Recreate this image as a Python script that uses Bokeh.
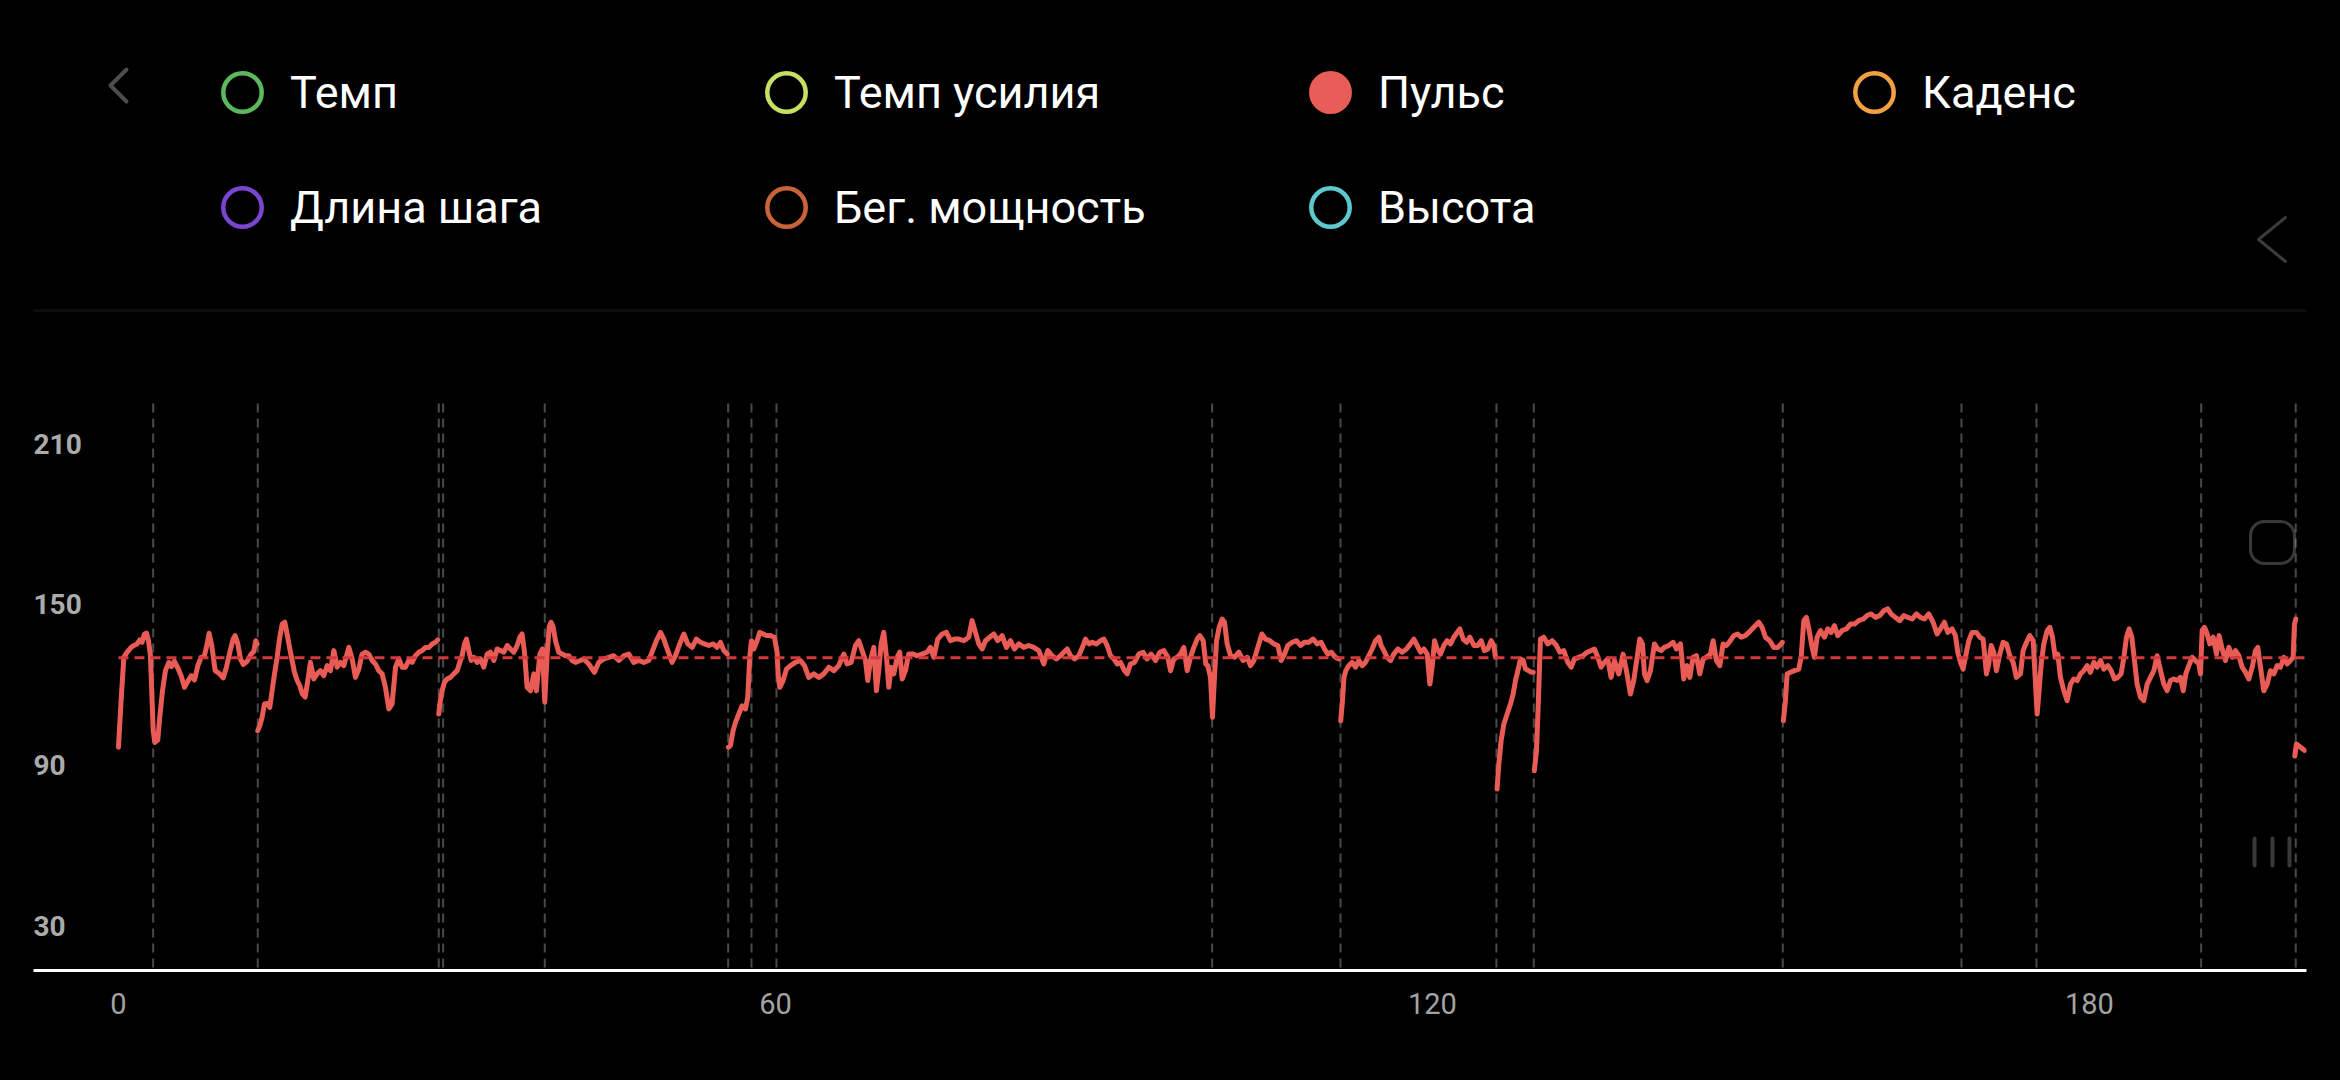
from bokeh.plotting import figure
from bokeh.models import (Range1d, FixedTicker, Legend, LegendItem, PolyAnnotation,
                          BoxAnnotation, GlobalInlineStyleSheet)
from bokeh.core.properties import value
from bokeh.embed import file_html
from bokeh.resources import INLINE

# ---------------- data ----------------
series_names = ["Темп", "Темп усилия", "Пульс", "Каденс",
                "Длина шага", "Бег. мощность", "Высота"]
series_colors = ["#5cb85c", "#c6e063", "#e85d57", "#f3a043",
                 "#7a46d0", "#c9643a", "#5ec8cf"]
series_active = [False, False, True, False, False, False, False]

x_ticks = [0, 60, 120, 180]
y_ticks = [30, 90, 150, 210]
y_tick_labels = ["30", "90", "150", "210"]

lap_marks_min = [3.17, 12.72, 29.25, 29.65, 38.93, 55.68, 57.81, 60.09, 99.88,
                 111.60, 125.84, 129.25, 151.99, 168.31, 175.16, 190.20, 198.84]
avg_hr = 130

seg_a_min = [0.0, 0.24, 0.49, 0.79, 1.16, 1.40, 1.70, 1.95, 2.16, 2.37, 2.56, 2.74, 2.92, 3.07, 3.17, 3.32, 3.59, 3.77, 4.02, 4.29, 4.60, 4.84, 5.11, 5.42, 5.72, 6.03, 6.33, 6.64, 6.94, 7.25, 7.55, 7.85, 8.10, 8.28, 8.52, 8.83, 9.19, 9.56, 9.86, 10.17, 10.47, 10.65, 10.90, 11.14, 11.39, 11.75, 12.12, 12.36, 12.54, 12.66]
seg_a_hr = [96.6, 114.0, 130.2, 132.1, 133.9, 134.6, 135.2, 136.7, 135.8, 138.9, 139.2, 136.4, 130.8, 114.0, 102.8, 98.4, 99.3, 107.8, 117.7, 125.2, 128.3, 126.7, 128.7, 126.2, 123.3, 119.0, 121.2, 123.3, 121.7, 127.1, 130.2, 130.8, 135.2, 139.2, 134.6, 125.2, 124.2, 122.5, 126.5, 132.1, 137.0, 138.3, 135.2, 129.6, 127.5, 128.7, 131.4, 132.4, 136.4, 135.2]

seg_b_min = [12.72, 12.91, 13.12, 13.33, 13.58, 13.82, 14.03, 14.25, 14.49, 14.73, 14.95, 15.19, 15.40, 15.65, 15.86, 16.07, 16.32, 16.56, 16.80, 17.05, 17.29, 17.53, 17.84, 18.14, 18.45, 18.75, 19.06, 19.36, 19.67, 19.97, 20.27, 20.58, 21.04, 21.34, 21.64, 21.95, 22.25, 22.56, 22.86, 23.17, 23.47, 23.77, 24.08, 24.38, 24.69, 24.99, 25.30, 25.60, 25.91, 26.21, 26.51, 26.82, 27.12, 27.43, 27.73, 28.04, 28.34, 28.65, 28.95, 29.16]
seg_b_hr = [102.8, 104.7, 107.8, 112.8, 113.0, 111.5, 117.7, 124.0, 130.2, 137.7, 142.6, 143.3, 138.9, 133.3, 129.0, 124.6, 121.5, 119.6, 116.5, 115.3, 121.5, 128.3, 122.1, 124.0, 125.2, 123.3, 127.1, 125.2, 132.7, 126.5, 128.3, 127.1, 133.9, 129.6, 122.7, 125.8, 131.4, 132.1, 131.4, 129.0, 127.7, 125.2, 124.0, 119.0, 110.9, 112.8, 126.5, 129.6, 126.5, 126.5, 129.0, 128.3, 130.8, 132.1, 132.7, 133.9, 133.9, 135.2, 135.8, 136.7]

seg_c_min = [29.25, 29.35, 29.56, 29.77, 30.01, 30.32, 30.62, 30.93, 31.17, 31.38, 31.60, 31.78, 31.99, 32.21, 32.45, 32.76, 33.06, 33.36, 33.67, 33.97, 34.28, 34.58, 34.89, 35.19, 35.50, 35.80, 36.10, 36.41, 36.65, 36.86, 37.08, 37.32, 37.63, 37.93, 38.17, 38.48, 38.72, 38.93, 39.15, 39.33, 39.51, 39.70, 39.91, 40.21, 40.52, 40.82, 41.13, 41.43, 41.74, 42.19, 42.49, 42.95, 43.47, 43.86, 44.32, 44.78, 45.23, 45.69, 46.15, 46.60, 47.06, 47.52, 47.97, 48.43, 48.73, 49.13, 49.50, 49.80, 50.17, 50.56, 50.87, 51.26, 51.63, 51.99, 52.39, 52.78, 53.15, 53.51, 53.91, 54.31, 54.67, 54.98, 55.28, 55.60]
seg_c_hr = [109.0, 112.8, 117.7, 120.8, 122.1, 122.7, 124.0, 125.2, 128.3, 130.8, 135.2, 137.0, 132.7, 129.0, 130.2, 128.3, 129.6, 126.5, 131.4, 132.1, 129.0, 133.3, 132.7, 132.1, 134.6, 133.3, 132.1, 134.6, 137.7, 138.9, 132.1, 119.0, 117.7, 124.0, 117.7, 131.4, 133.3, 113.4, 131.4, 141.4, 143.3, 141.4, 136.4, 132.1, 131.4, 130.8, 130.8, 129.0, 128.3, 129.0, 129.6, 127.7, 124.6, 128.3, 129.6, 130.2, 130.8, 129.0, 130.8, 131.4, 128.3, 129.0, 128.3, 129.0, 132.1, 136.4, 139.5, 137.0, 132.7, 128.3, 130.8, 135.2, 138.9, 135.2, 133.9, 137.0, 135.8, 135.2, 134.6, 135.2, 133.9, 135.8, 132.7, 131.4]

seg_d_min = [55.70, 55.89, 56.13, 56.35, 56.65, 56.95, 57.26, 57.47, 57.65, 57.81, 58.02, 58.32, 58.57, 58.87, 59.18, 59.54, 59.91, 60.15, 60.24, 60.39, 60.70, 61.00, 61.37, 61.82, 62.28, 62.65, 63.04, 63.50, 63.96, 64.41, 64.87, 65.33, 65.78, 66.24, 66.54, 66.91, 67.30, 67.61, 67.91, 68.22, 68.43, 68.67, 68.98, 69.22, 69.43, 69.65, 69.89, 70.14, 70.35, 70.56, 70.81, 71.11, 71.35, 71.57, 71.87, 72.17, 72.57, 72.94, 73.39, 73.85, 74.15, 74.46, 74.82, 75.22, 75.61, 75.98, 76.35, 76.74, 77.20, 77.65, 77.96, 78.26, 78.57, 78.87, 79.18, 79.57, 79.94, 80.30, 80.70, 81.09, 81.46, 81.83, 82.22, 82.68, 83.13, 83.59, 84.05, 84.50, 84.87, 85.26, 85.66, 86.03,
             86.33, 86.64, 86.94, 87.31, 87.70, 88.10, 88.31, 88.62, 88.92, 89.32, 89.68, 89.99, 90.29, 90.60, 90.90, 91.21, 91.51, 91.87, 92.12, 92.42, 92.79, 93.18, 93.58, 93.94, 94.31, 94.71, 95.10, 95.47, 95.83, 96.08, 96.38, 96.68, 96.99, 97.29, 97.60, 97.90, 98.21, 98.51, 98.75, 99.06, 99.30, 99.48, 99.73, 99.91, 100.09, 100.28, 100.52, 100.79, 101.01, 101.25, 101.56, 101.92, 102.32, 102.71, 103.08, 103.38, 103.69, 104.05, 104.42, 104.75, 105.15, 105.51, 105.88, 106.18, 106.49, 106.79, 107.19, 107.58, 107.95, 108.31, 108.71, 109.10, 109.47, 109.83, 110.14, 110.44, 110.75, 111.14, 111.45]
seg_d_hr = [96.6, 97.2, 102.8, 105.9, 109.0, 112.1, 110.9, 115.3, 130.2, 136.4, 133.3, 136.4, 139.5, 138.9, 138.3, 138.3, 137.7, 132.1, 124.0, 119.0, 121.5, 125.8, 127.1, 128.3, 129.0, 127.1, 122.7, 124.0, 122.7, 124.0, 126.5, 125.2, 127.1, 131.4, 127.7, 128.3, 134.6, 136.4, 132.7, 129.0, 121.5, 129.0, 133.9, 117.7, 125.2, 135.2, 139.5, 130.2, 119.0, 126.5, 124.0, 130.2, 132.1, 122.1, 125.2, 131.4, 131.4, 130.8, 131.4, 132.1, 133.9, 130.2, 137.0, 138.9, 139.5, 136.4, 137.0, 137.0, 136.4, 137.7, 143.9, 139.5, 135.2, 133.3, 136.4, 137.7, 138.9, 136.4, 138.3, 133.9, 136.4, 133.3, 135.2, 133.9, 134.6, 133.9, 132.7, 127.7, 132.7, 130.8, 129.6, 130.8,
            132.1, 133.3, 130.8, 129.6, 130.8, 134.6, 137.0, 135.2, 135.8, 135.2, 136.4, 137.0, 134.6, 130.8, 129.6, 127.7, 128.3, 125.2, 124.0, 127.7, 128.3, 131.4, 132.1, 129.6, 131.4, 129.0, 132.1, 132.7, 130.2, 125.2, 129.6, 130.2, 131.4, 133.9, 125.2, 130.2, 133.9, 137.0, 138.3, 136.4, 127.7, 127.1, 122.7, 107.8, 122.7, 136.4, 141.4, 144.5, 143.3, 135.2, 130.8, 130.2, 132.1, 129.0, 130.2, 127.1, 129.0, 133.9, 138.9, 137.0, 136.4, 135.2, 134.6, 129.0, 131.4, 134.6, 135.8, 136.4, 134.6, 135.8, 135.8, 137.0, 135.2, 135.8, 133.3, 131.4, 132.1, 130.2, 129.6]

seg_e_min = [111.62, 111.78, 111.92, 112.09, 112.36, 112.67, 112.97, 113.28, 113.58, 113.88, 114.19, 114.49, 114.80, 115.10, 115.31, 115.56, 115.86, 116.17, 116.47, 116.84, 117.23, 117.63, 117.99, 118.30, 118.60, 118.91, 119.21, 119.52, 119.76, 119.97, 120.19, 120.43, 120.73, 121.04, 121.34, 121.65, 121.95, 122.26, 122.50, 122.80, 123.11, 123.41, 123.78, 124.14, 124.45, 124.75, 125.06, 125.36, 125.60, 125.76]
seg_e_hr = [106.5, 114.0, 122.7, 125.2, 127.1, 128.3, 126.5, 129.0, 127.1, 128.3, 130.8, 133.3, 136.4, 137.7, 134.6, 132.7, 130.2, 129.0, 131.4, 133.3, 132.1, 133.3, 135.2, 137.0, 134.6, 132.1, 133.3, 131.4, 120.2, 126.5, 136.4, 133.3, 131.4, 134.6, 136.4, 135.2, 137.7, 139.5, 140.8, 137.0, 135.8, 137.7, 134.6, 134.6, 136.4, 132.7, 133.3, 136.4, 134.6, 130.2]

seg_f_min = [125.90, 126.06, 126.27, 126.52, 126.82, 127.13, 127.37, 127.58, 127.80, 128.04, 128.28, 128.50, 128.80, 129.01, 129.20]
seg_f_hr = [81.0, 90.3, 99.1, 105.3, 109.0, 112.8, 116.5, 121.5, 125.2, 129.6, 129.0, 125.8, 125.2, 124.6, 124.6]

seg_g_min = [129.30, 129.50, 129.65, 129.86, 130.16, 130.53, 130.93, 131.32, 131.63, 131.99, 132.36, 132.66, 132.97, 133.36, 133.76, 134.12, 134.49, 134.79, 135.10, 135.40, 135.70, 136.01, 136.31, 136.62, 137.01, 137.41, 137.71, 138.08, 138.38, 138.69, 138.93, 139.18, 139.36, 139.60, 139.91, 140.27, 140.58, 140.88, 141.18, 141.58, 141.98, 142.28, 142.65, 142.95, 143.25, 143.50, 143.80, 144.11, 144.41, 144.72, 145.02, 145.39, 145.63, 145.93, 146.24, 146.54, 146.85, 147.21, 147.52, 147.88, 148.19, 148.58, 148.89, 149.34, 149.80, 150.10, 150.41, 150.80, 151.17, 151.53, 151.84, 151.95]
seg_g_hr = [87.8, 95.3, 111.5, 137.0, 137.7, 135.2, 136.4, 134.6, 132.1, 132.7, 128.3, 126.5, 129.6, 130.2, 130.8, 132.1, 132.7, 133.3, 130.2, 126.5, 128.3, 129.6, 122.7, 129.0, 124.0, 131.4, 125.2, 116.5, 121.5, 130.2, 137.0, 135.2, 124.0, 121.5, 125.2, 135.2, 133.3, 132.7, 133.9, 134.6, 135.8, 133.3, 135.2, 122.1, 127.1, 122.7, 130.2, 130.8, 124.0, 129.6, 130.2, 131.4, 136.4, 129.0, 127.1, 135.2, 134.6, 136.4, 138.3, 138.9, 137.7, 138.3, 139.5, 141.4, 143.3, 141.4, 137.7, 136.4, 133.9, 133.9, 135.2, 135.8]

seg_h_min = [152.05, 152.23, 152.39, 152.69, 153.06, 153.45, 153.67, 153.91, 154.15, 154.40, 154.67, 154.88, 155.13, 155.43, 155.80, 156.10, 156.41, 156.71, 157.01, 157.41, 157.81, 158.17, 158.54, 158.93, 159.33, 159.69, 160.06, 160.45, 160.85, 161.22, 161.58, 161.88, 162.28, 162.68, 163.04, 163.41, 163.80, 164.20, 164.56, 164.93, 165.32, 165.72, 166.08, 166.39, 166.75, 167.06, 167.45, 167.76, 167.97, 168.22, 168.46, 168.67, 168.98, 169.28, 169.68, 169.98, 170.29, 170.59, 170.80, 171.02, 171.26, 171.50, 171.81, 172.11, 172.42, 172.72, 173.03, 173.33, 173.70,
             173.94, 174.25, 174.55, 174.86, 175.04, 175.22, 175.40, 175.59, 175.83, 176.14, 176.38, 176.62, 176.87, 177.11, 177.35, 177.66, 177.96, 178.27, 178.57, 178.88, 179.18, 179.48, 179.79, 180.09, 180.40, 180.70, 181.01, 181.31, 181.68, 181.98, 182.28, 182.59, 182.89, 183.14, 183.38, 183.62, 183.87, 184.11, 184.35, 184.66, 184.96, 185.27, 185.57, 185.88, 186.18, 186.49, 186.79, 187.09, 187.40, 187.70, 188.01, 188.31, 188.56, 188.80, 189.07, 189.38, 189.68, 189.99, 190.14, 190.29, 190.50, 190.75, 190.99, 191.30, 191.60, 191.84, 192.12, 192.42, 192.73, 193.03, 193.33, 193.64, 193.94, 194.25, 194.55, 194.86, 195.16, 195.37, 195.62, 195.92, 196.23, 196.53, 196.84, 197.14, 197.44, 197.75, 198.05, 198.36, 198.60, 198.72, 198.84]
seg_h_hr = [106.5, 114.0, 124.0, 124.6, 125.2, 125.8, 130.2, 143.9, 145.1, 140.2, 133.9, 130.2, 137.7, 140.2, 137.7, 140.8, 139.5, 142.0, 138.3, 140.2, 140.8, 142.6, 142.6, 143.9, 144.5, 145.8, 146.4, 145.1, 145.8, 147.6, 148.3, 146.4, 145.1, 143.9, 145.8, 145.1, 144.5, 146.4, 145.1, 144.5, 146.4, 143.3, 138.9, 140.8, 143.3, 139.5, 140.8, 138.3, 132.1, 128.3, 125.8, 130.2, 136.4, 139.5, 139.5, 137.7, 137.0, 124.0, 127.7, 134.6, 132.1, 125.2, 131.4, 135.8, 135.2, 130.8, 128.3, 122.7, 124.0,
            132.7, 135.8, 138.3, 136.4, 122.7, 109.0, 117.7, 127.7, 135.2, 140.2, 141.4, 137.7, 130.2, 131.4, 122.7, 117.7, 114.0, 120.2, 122.1, 121.5, 124.0, 125.2, 127.1, 124.6, 128.3, 126.5, 129.0, 125.8, 127.1, 125.2, 122.1, 122.7, 124.0, 130.2, 137.7, 140.8, 137.7, 129.0, 120.2, 115.3, 114.0, 120.2, 122.7, 125.2, 130.8, 125.2, 120.2, 117.7, 121.5, 122.1, 121.5, 122.7, 117.7, 124.0, 127.1, 130.2, 129.0, 127.7, 124.0, 140.2, 141.4, 138.9, 135.2, 137.7, 131.4, 138.3, 133.3, 129.0, 133.9, 130.2, 132.7, 130.8, 126.5, 124.6, 122.1, 126.5, 132.7, 133.9, 126.5, 117.7, 120.2, 125.2, 124.0, 127.1, 126.5, 130.2, 127.7, 129.0, 130.2, 142.6, 144.5]

seg_i_min = [198.75, 198.90, 199.65]
seg_i_hr = [93.3, 97.8, 95.4]

hr_segments_min = [seg_a_min, seg_b_min, seg_c_min, seg_d_min, seg_e_min,
                   seg_f_min, seg_g_min, seg_h_min, seg_i_min]
hr_segments_bpm = [seg_a_hr, seg_b_hr, seg_c_hr, seg_d_hr, seg_e_hr,
                   seg_f_hr, seg_g_hr, seg_h_hr, seg_i_hr]

# ---------------- layout (screenshot pixels) ----------------
PAGE = 8
FIG_W, FIG_H = 2324, 1060
# plot frame covers the whole header too (annotations are clipped to the frame)
FRAME_L, FRAME_R, FRAME_T, FRAME_B = 33, 2306, 8, 970
CHART_TOP_BPM = 225.0          # top of the chart area (screenshot y = 403)
X_START, X_END = -7.76, 199.82
Y_START = 13.2
Y_END = Y_START + (FRAME_B - FRAME_T) / 2.677

UI_FONT = "Roboto"
NUM_FONT = "Roboto"


def sx(X):
    return X - FRAME_L


def sy(Y):
    return FRAME_B - Y


p = figure(width=FIG_W, height=FIG_H, output_backend="svg", toolbar_location=None,
           x_range=Range1d(X_START, X_END), y_range=Range1d(Y_START, Y_END),
           y_axis_location=None,
           min_border_left=FRAME_L - PAGE, min_border_right=FIG_W - (FRAME_R - PAGE),
           min_border_top=FRAME_T - PAGE, min_border_bottom=FIG_H - (FRAME_B - PAGE),
           background_fill_color="#000000", border_fill_color="#000000",
           outline_line_color=None)
p.stylesheets.append(GlobalInlineStyleSheet(
    css="html { background-color: #000000; margin: 0; padding: 0; } "
        "body { background-color: #000000; margin: 8px !important; padding: 0; }"))
p.xgrid.visible = False
p.ygrid.visible = False

ax = p.xaxis[0]
ax.ticker = FixedTicker(ticks=x_ticks)
ax.axis_line_color = "#ffffff"
ax.axis_line_width = 3
ax.major_tick_line_color = None
ax.minor_tick_line_color = None
ax.major_label_text_color = "#a3a3a3"
ax.major_label_text_font = NUM_FONT
ax.major_label_text_font_size = "29px"
ax.major_label_standoff = 16

# y tick labels, left aligned inside the plot area
p.text(x=[X_START] * len(y_ticks), y=y_ticks, text=y_tick_labels,
       text_align="left", text_baseline="middle", text_color="#ababab",
       text_font=value(NUM_FONT), text_font_size="28px", text_font_style="bold")

# lap markers
n_laps = len(lap_marks_min)
p.segment(x0=lap_marks_min, y0=[CHART_TOP_BPM] * n_laps, x1=lap_marks_min,
          y1=[Y_START] * n_laps, line_color="#4a4a4a", line_width=2, line_dash="9 6")

# heart rate
p.multi_line(xs=hr_segments_min, ys=hr_segments_bpm, line_color="#e95c56",
             line_width=5, line_join="round", line_cap="round")

# average
t_first = min(min(s) for s in hr_segments_min)
t_last = max(max(s) for s in hr_segments_min)
p.segment(x0=[t_first], y0=[avg_hr], x1=[t_last], y1=[avg_hr],
          line_color="#d23a3c", line_width=3, line_dash="10 6")

# legend (metric toggles); each toggle gets a marker-only renderer with no visible point
items = []
for name, col, active in zip(series_names, series_colors, series_active):
    r = p.scatter(x=[float("nan")], y=[float("nan")], marker="circle", size=38,
                  line_color=col, line_width=4.5,
                  fill_color=col if active else None)
    items.append(LegendItem(label=name, renderers=[r]))

legend = Legend(items=items, location=(161, 715), orientation="horizontal", ncols=4,
                glyph_width=96, glyph_height=96, label_standoff=0, label_width=429,
                spacing=19, padding=0, margin=0,
                border_line_alpha=0, background_fill_alpha=0,
                label_text_color="#ffffff", label_text_font=UI_FONT,
                label_text_font_size="45px")
p.add_layout(legend)


def poly(points, color, width):
    return PolyAnnotation(xs=[sx(a) for a, b in points], ys=[sy(b) for a, b in points],
                          xs_units="screen", ys_units="screen",
                          line_color=color, line_width=width, line_cap="round",
                          line_join="round", fill_alpha=0)


# back chevron (top left), separator, nav bar
p.add_layout(poly([(126, 69), (110, 85), (126, 101), (110, 85)], "#ffffff", 4))
p.add_layout(poly([(34, 310), (2305, 310)], "#2b2b2b", 3))
p.add_layout(poly([(2285, 217), (2258, 239), (2285, 261), (2258, 239)], "#c4c4c4", 3))
for X in (2254, 2272, 2289):
    p.add_layout(poly([(X, 838), (X, 865)], "#bcbcbc", 4))
p.add_layout(BoxAnnotation(left=sx(2250), right=sx(2294), top=sy(521), bottom=sy(563),
                           left_units="screen", right_units="screen",
                           top_units="screen", bottom_units="screen",
                           border_radius=14, fill_alpha=0,
                           line_color="#bcbcbc", line_width=3))

open("out.html", "w").write(file_html(p, INLINE))
